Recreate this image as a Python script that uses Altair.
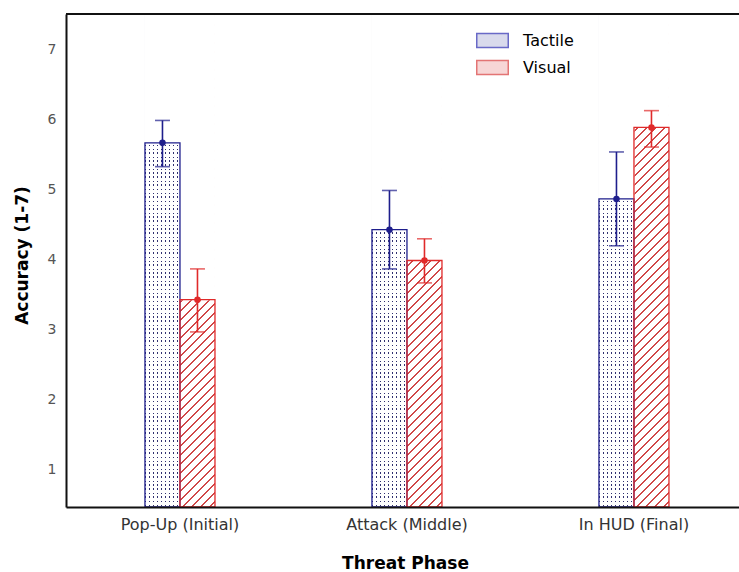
import altair as alt
import pandas as pd

# ---------------- data ----------------
phases = ["Pop-Up (Initial)", "Attack (Middle)", "In HUD (Final)"]
series = ["Tactile", "Visual"]
tactile_mean = [5.67, 4.43, 4.87]
tactile_lo = [5.33, 3.87, 4.20]
tactile_hi = [5.99, 4.99, 5.54]
visual_mean = [3.43, 3.99, 5.89]
visual_lo = [2.97, 3.67, 5.61]
visual_hi = [3.87, 4.30, 6.13]
y_ticks = [1, 2, 3, 4, 5, 6, 7]
y_min, y_max = 0.47, 7.51

rows = []
for i, p in enumerate(phases):
    rows.append(dict(phase=p, series="Tactile", mean=tactile_mean[i], lo=tactile_lo[i], hi=tactile_hi[i]))
    rows.append(dict(phase=p, series="Visual", mean=visual_mean[i], lo=visual_lo[i], hi=visual_hi[i]))
df = pd.DataFrame(rows)

# ---------------- layout / style ----------------
W, H = 673, 493
BW = 35
FONT = "DejaVu Sans"
dark = ["#1e1e8c", "#e02a2a"]
tints = ["#c9cbe4", "#f4c6c6"]
legend_strokes = ["#2a2ab0", "#d83a3a"]


def stripes(period, on, length, on_color, off_color):
    stops = []
    k = 0
    while k * period < length:
        s = min(k * period / length, 1.0)
        e = min((k * period + on) / length, 1.0)
        n = min((k + 1) * period / length, 1.0)
        stops += [
            {"offset": round(s, 5), "color": on_color},
            {"offset": round(e, 5), "color": on_color},
            {"offset": round(e, 5), "color": off_color},
            {"offset": round(n, 5), "color": off_color},
        ]
        k += 1
    return stops


# dotted pattern = vertical dark stripes masked by horizontal white stripes
grad_vert = {"gradient": "linear", "x1": 0, "y1": 0, "x2": 1, "y2": 0,
             "stops": stripes(4, 1.5, BW, "#303070", "#ffffff")}
grad_horz = {"gradient": "linear", "x1": 0, "y1": 0, "x2": 0, "y2": 1,
             "stops": stripes(4, 2.5, H, "#ffffff", "rgba(255,255,255,0)")}
# 45 degree "/" hatch on a BW x H box
a = (BW + H) / (BW * BW + H * H)
grad_hatch = {"gradient": "linear", "x1": 0, "y1": 0, "x2": round(a * BW, 6), "y2": round(a * H, 6),
              "stops": stripes(9, 1.25, BW + H, "#d04848", "#ffffff")}

x_scale = alt.Scale(domain=phases, paddingInner=0.6916, paddingOuter=0.3282, align=0.53)
y_scale = alt.Scale(domain=[y_min, y_max], nice=False, zero=False)
xo = alt.XOffset("series:N", scale=alt.Scale(domain=series, paddingInner=0, paddingOuter=0))
# colour scale takes its domain from the data (Tactile, Visual)
col = alt.Color("series:N", scale=alt.Scale(range=dark), legend=None)

x_axis = alt.Axis(orient="bottom", title="Threat Phase", titleFont=FONT, titleFontSize=17,
                  titleFontWeight="bold", titleColor="black", titleX=339, titleY=56,
                  titleBaseline="middle", titleAlign="center", labelFont=FONT, labelFontSize=16,
                  labelColor="#333333", labelPadding=9, labelAngle=0, ticks=False, grid=False,
                  domainColor="#111111", domainWidth=2, zindex=1)
y_axis = alt.Axis(orient="left", values=y_ticks, title="Accuracy (1-7)", titleFont=FONT,
                  titleFontSize=17, titleFontWeight="bold", titleColor="black", titleAngle=270,
                  titleX=-44, titleY=241, titleAlign="center", titleBaseline="middle",
                  labelFont=FONT, labelFontSize=14, labelColor="#555555", labelPadding=10,
                  ticks=False, grid=False, domainColor="#111111", domainWidth=2, zindex=1)


def X():
    return alt.X("phase:N", scale=x_scale, axis=x_axis)


def Yf(field):
    return alt.Y(field, type="quantitative", scale=y_scale, axis=y_axis)


base = alt.Chart(df).transform_calculate(top=str(y_max), bottom=str(y_min))

l_vert = base.transform_filter(alt.datum.series == "Tactile").mark_bar(fill=grad_vert).encode(
    x=X(), xOffset=xo, y=Yf("top"), y2="bottom:Q")
l_horz = base.transform_filter(alt.datum.series == "Tactile").mark_bar(fill=grad_horz).encode(
    x=X(), xOffset=xo, y=Yf("top"), y2="bottom:Q")
l_hatch = base.transform_filter(alt.datum.series == "Visual").mark_bar(fill=grad_hatch).encode(
    x=X(), xOffset=xo, y=Yf("top"), y2="bottom:Q")

# white cover above each bar, so that the pattern remains only inside the bar
cover = base.mark_bar(fill="white", stroke="white", strokeWidth=1.2).encode(
    x=X(), xOffset=xo, y=Yf("mean"), y2="top:Q")

outline = base.mark_bar(filled=False, strokeWidth=1.3).encode(
    x=X(), xOffset=xo, y=Yf("mean"), y2="bottom:Q", color=col)

rules = base.mark_rule(strokeWidth=1.6).encode(
    x=X(), xOffset=xo, y=Yf("lo"), y2="hi:Q", color=col)

caps = base.transform_fold(["lo", "hi"], as_=["end", "val"]).mark_tick(size=15, thickness=1.6).encode(
    x=X(), xOffset=xo, y=Yf("val"), color=col)

pts = base.mark_point(filled=True, size=42, opacity=1).encode(
    x=X(), xOffset=xo, y=Yf("mean"), color=col)

# top frame line
frame_top = base.mark_rule(color="#111111", strokeWidth=2).encode(y=Yf("top"))

leg_props = dict(title="\u00a0", titleOrient="left", titleFontSize=1, titlePadding=400,
                 orient="top-left", offset=15, padding=0,
                 symbolType="M-1.5,-0.67L1.5,-0.67L1.5,0.67L-1.5,0.67Z", symbolSize=441,
                 symbolStrokeWidth=1.5, labelFont=FONT, labelFontSize=16, labelColor="black",
                 labelOffset=19, rowPadding=5)
# zero-size points carrying the legend (fill + stroke merged into one legend)
legend_layer = base.mark_point(filled=True, size=0, strokeWidth=1.5).encode(
    x=X(), xOffset=xo, y=Yf("mean"),
    fill=alt.Fill("series:N", scale=alt.Scale(domain=series, range=tints), legend=alt.Legend(**leg_props)),
    stroke=alt.Stroke("series:N", scale=alt.Scale(domain=series, range=legend_strokes),
                      legend=alt.Legend(**leg_props)))

chart = alt.layer(l_vert, l_horz, l_hatch, cover, outline, rules, caps, pts, frame_top, legend_layer).properties(
    width=W, height=H,
    padding={"left": 66, "top": 14, "right": 0, "bottom": 65},
    autosize=alt.AutoSizeParams(type="none"),
    background="white",
).configure_view(stroke="transparent")

chart.save("out.html", embed_options={"renderer": "svg", "actions": False})
